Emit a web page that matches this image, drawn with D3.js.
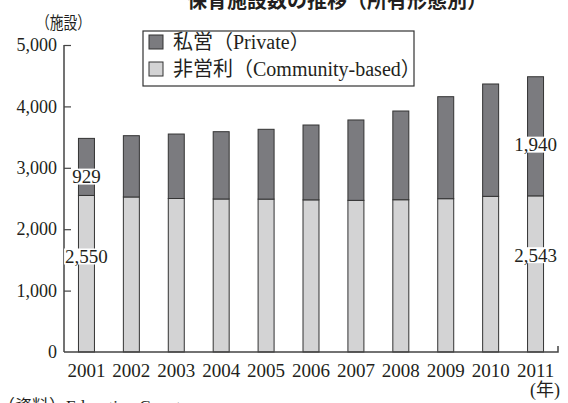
<!DOCTYPE html>
<html><head><meta charset="utf-8">
<script src="https://cdn.jsdelivr.net/npm/d3@7"></script>
<style>
html,body{margin:0;padding:0;background:#fff;}
svg{display:block;}
text{font-family:"Liberation Serif","Noto Sans CJK JP",serif;fill:#231f20;}
</style></head>
<body>
<svg id="c" width="568" height="403"></svg>
<script>
const years = ["2001","2002","2003","2004","2005","2006","2007","2008","2009","2010","2011"];
const community = [2550,2525,2500,2492,2490,2478,2470,2480,2497,2535,2543];
const privateVals = [929,998,1050,1096,1137,1219,1309,1445,1661,1830,1940];
const yTicks = [0,1000,2000,3000,4000,5000];
const seriesNames = ["私営（Private）","非営利（Community-based）"];
const colors = ["#7b7b7f","#d3d3d4"];

const svg = d3.select("#c");
const x = d3.scaleBand().domain(years).range([64,558]).paddingInner(0.644).paddingOuter(0.322);
const y = d3.scaleLinear().domain([0,5000]).range([352,45]);

// title (cut off at top, as in the source)
svg.append("text").attr("x",337).attr("y",8).attr("text-anchor","middle")
  .style("font-size","20px").style("font-weight","bold").style("font-family","'Noto Sans CJK JP',sans-serif")
  .text("保育施設数の推移（所有形態別）");

// unit label
svg.append("text").attr("x",36).attr("y",29).style("font-size","17px").text("（施設）")
  .attr("textLength",55).attr("lengthAdjust","spacingAndGlyphs");

// bars
const data = years.map((yr,i)=>({yr, c:community[i], p:privateVals[i]}));
const g = svg.append("g");
g.selectAll("rect.c").data(data).join("rect").attr("class","c")
  .attr("x",d=>x(d.yr)).attr("width",x.bandwidth())
  .attr("y",d=>y(d.c)).attr("height",d=>y(0)-y(d.c))
  .attr("fill",colors[1]).attr("stroke","#333").attr("stroke-width",1);
g.selectAll("rect.p").data(data).join("rect").attr("class","p")
  .attr("x",d=>x(d.yr)).attr("width",x.bandwidth())
  .attr("y",d=>y(d.c+d.p)).attr("height",d=>y(d.c)-y(d.c+d.p))
  .attr("fill",colors[0]).attr("stroke","#333").attr("stroke-width",1);

// y axis
const yAxis = d3.axisLeft(y).tickValues(yTicks).tickSize(-7).tickPadding(7)
  .tickFormat(d3.format(","));
const ya = svg.append("g").attr("transform","translate(64,0)").call(yAxis);
ya.select(".domain").remove();
ya.selectAll(".tick line").attr("stroke","#444").attr("stroke-width",1.2);
ya.selectAll(".tick").filter(d=>d===0).select("line").remove();
ya.selectAll("text").style("font-size","18px").style("font-family","'Liberation Serif',serif").attr("fill","#231f20");
svg.append("line").attr("x1",64).attr("x2",64).attr("y1",y(5000)).attr("y2",y(0))
  .attr("stroke","#444").attr("stroke-width",1.5);

// x axis
const xAxis = d3.axisBottom(x).tickSize(0).tickPadding(12);
const xa = svg.append("g").attr("transform",`translate(0,${y(0)})`).call(xAxis);
xa.select(".domain").remove();
xa.selectAll("text").style("font-size","19px").style("font-family","'Liberation Serif',serif").attr("fill","#231f20");
svg.append("path").attr("d",`M64,${y(0)}H558V${y(0)-6}`).attr("fill","none")
  .attr("stroke","#444").attr("stroke-width",1.5);

svg.append("text").attr("x",530).attr("y",396).style("font-size","18px").text("(年)");
svg.append("text").attr("x",-2).attr("y",412).style("font-size","17px").text("（資料）Education Counts");

// value labels
const labels = [
  {yr:years[0], v:privateVals[0], pos:community[0]+privateVals[0]*0.33},
  {yr:years[0], v:community[0], pos:community[0]*0.61},
  {yr:years[10], v:privateVals[10], pos:community[10]+privateVals[10]*0.43},
  {yr:years[10], v:community[10], pos:community[10]*0.62}
];
labels.forEach(l=>{
  const cx = x(l.yr)+x.bandwidth()/2, cy = y(l.pos);
  const lgp = svg.append("g");
  const r = lgp.append("rect").attr("fill","#fff");
  const t = lgp.append("text").attr("x",cx).attr("y",cy).attr("text-anchor","middle")
    .attr("dy","0.35em").style("font-size","19px").text(d3.format(",")(l.v));
  const bb = t.node().getBBox();
  r.attr("x",bb.x-1).attr("y",cy-8).attr("width",bb.width+2).attr("height",16);
});

// legend
const lg = svg.append("g");
lg.append("rect").attr("x",143).attr("y",31).attr("width",271).attr("height",55)
  .attr("fill","#fff").attr("stroke","#333").attr("stroke-width",1.2);
seriesNames.forEach((n,i)=>{
  lg.append("rect").attr("x",149).attr("y",35+i*27).attr("width",14).attr("height",14)
    .attr("fill",colors[i]).attr("stroke","#333").attr("stroke-width",1);
  lg.append("text").attr("x",173).attr("y",42+i*27).attr("dy","0.35em").style("font-size","20px").text(n);
});
</script>
</body></html>
